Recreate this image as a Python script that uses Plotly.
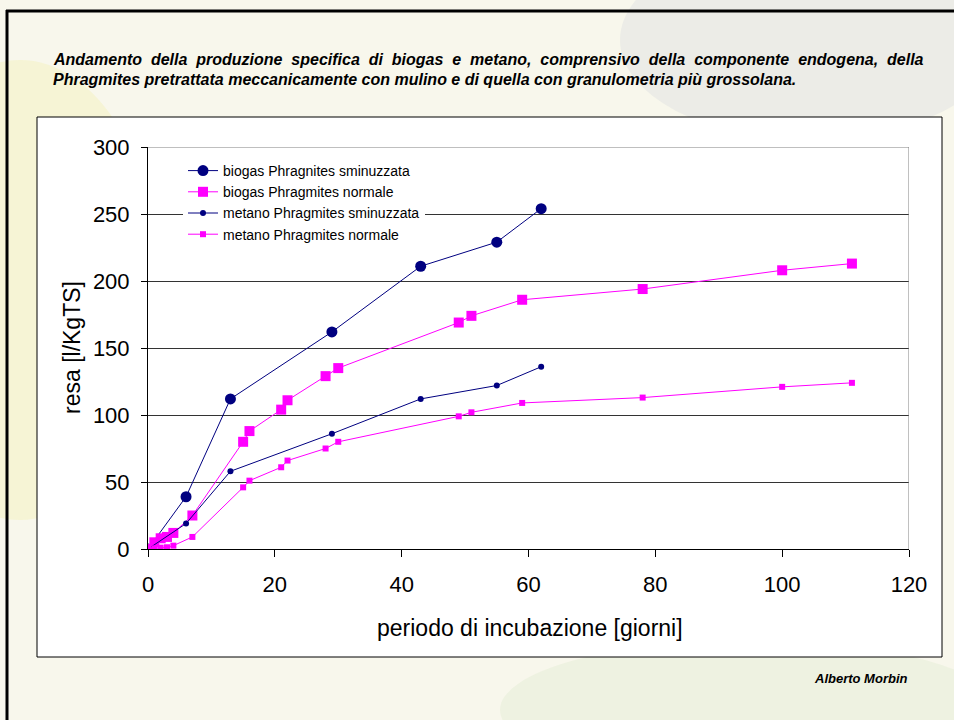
import plotly.graph_objects as go

# --- data -------------------------------------------------------------
days_sminuzzata = [0, 6, 13, 29, 43, 55, 62]
biogas_sminuzzata = [0, 39, 112, 162, 211, 229, 254]
metano_sminuzzata = [0, 19, 58, 86, 112, 122, 136]

days_normale = [0, 1, 2, 3, 4, 7, 15, 16, 21, 22, 28, 30, 49, 51, 59, 78, 100, 111]
biogas_normale = [0, 5, 8, 9, 12, 25, 80, 88, 104, 111, 129, 135, 169, 174, 186, 194, 208, 213]
metano_normale = [0, 0.5, 1, 1.3, 2.5, 9, 46, 51, 61, 66, 75, 80, 99, 102, 109, 113, 121, 124]

series_names = [
    "biogas Phragnites sminuzzata",
    "biogas Phragmites normale",
    "metano Phragmites sminuzzata",
    "metano Phragmites normale",
]

x_ticks = [0, 20, 40, 60, 80, 100, 120]
y_ticks = [0, 50, 100, 150, 200, 250, 300]

title_line1_words = ["Andamento", "della", "produzione", "specifica", "di", "biogas",
                     "e", "metano,", "comprensivo", "della", "componente",
                     "endogena,", "della"]
title_line2 = ("Phragmites pretrattata meccanicamente con mulino e di quella con "
               "granulometria più grossolana.")
author = "Alberto Morbin"
x_title = "periodo di incubazione [giorni]"
y_title = "resa [l/KgTS]"

# --- geometry (pixels) --------------------------------------------------
W, H = 954, 720
PX0, PX1 = 148, 909      # plot area left / right
PY0, PY1 = 147, 549      # plot area top / bottom

def fx(p):
    return (p - PX0) / (PX1 - PX0)

def fy(p):
    return (PY1 - p) / (PY1 - PY0)

FONT = "Liberation Sans, Arial, sans-serif"
NAVY = "#000080"
MAGENTA = "#FF00FF"

fig = go.Figure()

fig.add_trace(go.Scatter(
    x=days_sminuzzata, y=biogas_sminuzzata, name=series_names[0],
    mode="lines+markers", line=dict(color=NAVY, width=1),
    marker=dict(symbol="circle", size=11, color=NAVY)))
fig.add_trace(go.Scatter(
    x=days_normale, y=biogas_normale, name=series_names[1],
    mode="lines+markers", line=dict(color=MAGENTA, width=1),
    marker=dict(symbol="square", size=10, color=MAGENTA)))
fig.add_trace(go.Scatter(
    x=days_sminuzzata, y=metano_sminuzzata, name=series_names[2],
    mode="lines+markers", line=dict(color=NAVY, width=1),
    marker=dict(symbol="circle", size=6, color=NAVY)))
fig.add_trace(go.Scatter(
    x=days_normale, y=metano_normale, name=series_names[3],
    mode="lines+markers", line=dict(color=MAGENTA, width=1),
    marker=dict(symbol="square", size=6, color=MAGENTA)))

shapes = [
    # faint slide background tints
    dict(type="circle", xref="paper", yref="paper", layer="below",
         x0=fx(-120), x1=fx(160), y0=fy(520), y1=fy(60),
         fillcolor="#f3eea0", opacity=0.3, line=dict(width=0)),
    dict(type="circle", xref="paper", yref="paper", layer="below",
         x0=fx(620), x1=fx(1000), y0=fy(140), y1=fy(-60),
         fillcolor="#cfd3da", opacity=0.3, line=dict(width=0)),
    dict(type="circle", xref="paper", yref="paper", layer="below",
         x0=fx(500), x1=fx(1000), y0=fy(780), y1=fy(640),
         fillcolor="#d6e8c8", opacity=0.3, line=dict(width=0)),
    # white chart box
    dict(type="rect", xref="paper", yref="paper", layer="below",
         x0=fx(37), x1=fx(942), y0=fy(657), y1=fy(117),
         fillcolor="white", line=dict(color="black", width=1)),
    # slide frame
    dict(type="line", xref="paper", yref="paper",
         x0=fx(6), x1=fx(960), y0=fy(11), y1=fy(11),
         line=dict(color="black", width=3)),
    dict(type="line", xref="paper", yref="paper",
         x0=fx(7), x1=fx(7), y0=fy(10), y1=fy(730),
         line=dict(color="black", width=3)),
    # gray top / right border of the plot area
    dict(type="line", xref="x", yref="y", x0=0, x1=120, y0=300, y1=300,
         line=dict(color="#808080", width=1)),
    dict(type="line", xref="x", yref="y", x0=120, x1=120, y0=0, y1=300,
         line=dict(color="#808080", width=1)),
]

# first title line is justified: one extra non-breaking space between words
title_line1 = "&nbsp; ".join(title_line1_words)

annotations = [
    dict(text="<b><i>" + title_line1 + "</i></b>", xref="paper", yref="paper",
         x=fx(51), y=fy(60), xanchor="left", yanchor="middle", showarrow=False,
         font=dict(family=FONT, size=16, color="black")),
    dict(text="<b><i>" + title_line2 + "</i></b>", xref="paper", yref="paper",
         x=fx(51), y=fy(80), xanchor="left", yanchor="middle", showarrow=False,
         font=dict(family=FONT, size=16, color="black")),
    dict(text="<b><i>" + author + "</i></b>", xref="paper", yref="paper",
         x=fx(909), y=fy(678), xanchor="right", yanchor="middle", showarrow=False,
         font=dict(family=FONT, size=13, color="black")),
    dict(text=x_title, xref="paper", yref="paper",
         x=fx(530), y=fy(628), xanchor="center", yanchor="middle", showarrow=False,
         font=dict(family=FONT, size=23, color="black")),
    dict(text=y_title, xref="paper", yref="paper", textangle=-90,
         x=fx(72), y=fy(348), xanchor="center", yanchor="middle", showarrow=False,
         font=dict(family=FONT, size=23, color="black")),
]

fig.update_layout(
    width=W, height=H,
    margin=dict(l=PX0, r=W - PX1, t=PY0, b=H - PY1, pad=0),
    paper_bgcolor="#f8f7ec",
    plot_bgcolor="white",
    font=dict(family=FONT, color="black"),
    shapes=shapes,
    annotations=annotations,
    legend=dict(x=fx(183), y=fy(155), xanchor="left", yanchor="top",
                bgcolor="white", borderwidth=0, itemwidth=30,
                font=dict(family=FONT, size=14, color="black"),
                tracegroupgap=0),
    showlegend=True,
    xaxis=dict(range=[0, 120], tickvals=x_ticks, showgrid=False, zeroline=False,
               showline=True, linecolor="black", linewidth=1,
               ticks="outside", ticklen=7, tickcolor="black",
               tickfont=dict(family=FONT, size=22, color="black"),
               ticklabelstandoff=9, fixedrange=True),
    yaxis=dict(range=[0, 300], tickvals=y_ticks, showgrid=True,
               gridcolor="#333333", gridwidth=1, zeroline=False,
               showline=True, linecolor="black", linewidth=1,
               ticks="outside", ticklen=6, tickcolor="black",
               tickfont=dict(family=FONT, size=22, color="black"),
               ticklabelstandoff=7, fixedrange=True),
)

fig.write_html("out.html")
